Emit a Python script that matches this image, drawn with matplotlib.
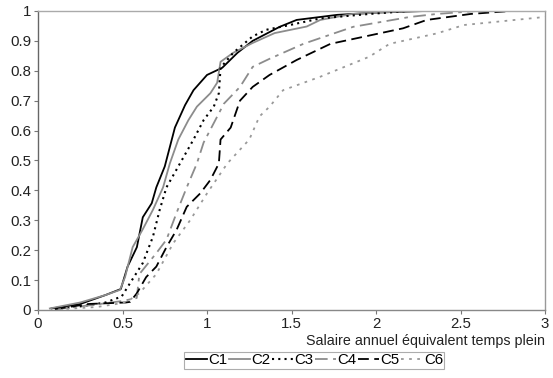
import numpy as np
import matplotlib
matplotlib.use('Agg')
import matplotlib.pyplot as plt

plt.rcParams['font.family'] = ['Liberation Sans', 'DejaVu Sans']

# cumulative distributions (x: salary ratio, y: share)
c1_x = [0.08, 0.25, 0.40, 0.49, 0.53, 0.585, 0.62, 0.673, 0.70, 0.75, 0.78, 0.81, 0.87, 0.92, 1.00, 1.09, 1.18, 1.27, 1.43, 1.53, 1.77, 2.02, 2.30, 3.0]
c1_y = [0.005, 0.02, 0.05, 0.07, 0.145, 0.21, 0.31, 0.357, 0.41, 0.48, 0.545, 0.61, 0.685, 0.735, 0.786, 0.81, 0.86, 0.90, 0.947, 0.97, 0.987, 0.995, 1.0, 1.0]

c2_x = [0.07, 0.25, 0.40, 0.485, 0.515, 0.56, 0.62, 0.68, 0.74, 0.78, 0.83, 0.89, 0.94, 1.02, 1.06, 1.08, 1.155, 1.27, 1.40, 1.59, 1.67, 1.86, 2.2, 3.0]
c2_y = [0.005, 0.025, 0.05, 0.067, 0.11, 0.21, 0.27, 0.335, 0.41, 0.49, 0.57, 0.635, 0.68, 0.725, 0.76, 0.83, 0.86, 0.893, 0.926, 0.948, 0.97, 0.99, 1.0, 1.0]

c3_x = [0.10, 0.25, 0.40, 0.495, 0.545, 0.62, 0.68, 0.72, 0.76, 0.82, 0.85, 0.92, 0.98, 1.04, 1.07, 1.08, 1.155, 1.27, 1.35, 1.49, 1.67, 1.96, 2.2, 3.0]
c3_y = [0.003, 0.012, 0.025, 0.045, 0.09, 0.157, 0.245, 0.335, 0.41, 0.47, 0.50, 0.57, 0.635, 0.68, 0.725, 0.81, 0.86, 0.915, 0.937, 0.953, 0.975, 0.99, 1.0, 1.0]

c4_x = [0.10, 0.30, 0.50, 0.584, 0.60, 0.70, 0.76, 0.82, 0.88, 0.94, 0.98, 1.04, 1.10, 1.195, 1.27, 1.37, 1.57, 1.865, 2.2, 2.36, 2.6, 3.0]
c4_y = [0.003, 0.015, 0.03, 0.04, 0.12, 0.19, 0.235, 0.325, 0.41, 0.49, 0.56, 0.625, 0.69, 0.746, 0.813, 0.84, 0.89, 0.947, 0.98, 0.99, 1.0, 1.0]

c5_x = [0.10, 0.30, 0.52, 0.545, 0.585, 0.64, 0.70, 0.76, 0.82, 0.88, 0.96, 1.02, 1.07, 1.08, 1.14, 1.195, 1.27, 1.37, 1.53, 1.73, 2.16, 2.30, 2.56, 2.8, 3.0]
c5_y = [0.003, 0.02, 0.025, 0.027, 0.056, 0.11, 0.145, 0.21, 0.268, 0.345, 0.39, 0.435, 0.49, 0.57, 0.61, 0.70, 0.746, 0.786, 0.836, 0.89, 0.942, 0.97, 0.99, 1.0, 1.0]

c6_x = [0.12, 0.35, 0.52, 0.60, 0.70, 0.80, 0.90, 1.00, 1.12, 1.25, 1.31, 1.37, 1.45, 1.67, 1.96, 2.08, 2.36, 2.52, 3.0]
c6_y = [0.002, 0.01, 0.025, 0.056, 0.12, 0.223, 0.30, 0.39, 0.49, 0.57, 0.647, 0.68, 0.735, 0.78, 0.847, 0.89, 0.925, 0.953, 0.98]

labels = ['C1', 'C2', 'C3', 'C4', 'C5', 'C6']

fig = plt.figure(figsize=(5.53, 3.78), dpi=100)
ax = fig.add_axes([0.0687, 0.18, 0.917, 0.791])

ax.plot(c1_x, c1_y, color='black', lw=1.3, label=labels[0])
ax.plot(c2_x, c2_y, color='#8c8c8c', lw=1.3, label=labels[1])
ax.plot(c3_x, c3_y, color='black', lw=1.5, linestyle=(0, (1, 2)), label=labels[2])
ax.plot(c4_x, c4_y, color='#8c8c8c', lw=1.3, linestyle=(0, (7, 3, 2, 3)), label=labels[3])
ax.plot(c5_x, c5_y, color='black', lw=1.3, linestyle=(0, (6, 3)), label=labels[4])
ax.plot(c6_x, c6_y, color='#999999', lw=1.3, linestyle=(0, (1.5, 3)), label=labels[5])

ax.set_xlim(0, 3)
ax.set_ylim(0, 1)
ax.set_xticks([0, 0.5, 1, 1.5, 2, 2.5, 3])
ax.set_xticklabels(['0', '0.5', '1', '1.5', '2', '2.5', '3'])
ax.set_yticks(np.arange(0, 1.01, 0.1))
ax.set_yticklabels(['0', '0.1', '0.2', '0.3', '0.4', '0.5', '0.6', '0.7', '0.8', '0.9', '1'])
ax.spines['left'].set_color('#666666')
ax.spines['bottom'].set_color('#888888')
ax.spines['top'].set_color('#aaaaaa')
ax.spines['right'].set_color('#999999')
for s in ax.spines.values():
    s.set_linewidth(1.0)
ax.tick_params(colors='#777777', labelcolor='#222222', labelsize=10.8, length=3, pad=2)

ax.set_xlabel('Salaire annuel équivalent temps plein', fontsize=10.3, color='#222222')
ax.xaxis.set_label_coords(1.0, -0.08)
ax.xaxis.label.set_horizontalalignment('right')

leg = ax.legend(loc='upper center', bbox_to_anchor=(0.545, -0.14), ncol=6, frameon=True,
                fancybox=False, handlelength=1.4, handletextpad=0.1, columnspacing=0.1,
                borderpad=0.1, borderaxespad=0, fontsize=10.8)
leg.get_frame().set_edgecolor('#999999')
leg.get_frame().set_linewidth(0.8)

fig.savefig('out.png', dpi=100)
